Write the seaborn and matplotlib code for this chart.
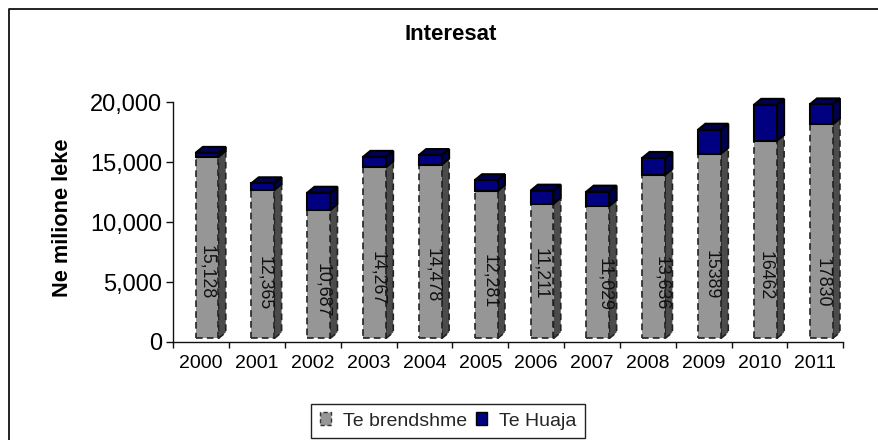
import numpy as np
import pandas as pd
import matplotlib
matplotlib.use("Agg")
import matplotlib.pyplot as plt
from matplotlib.lines import Line2D
from matplotlib.patches import Polygon, Patch
from matplotlib.transforms import ScaledTranslation
import seaborn as sns

years = ["2000", "2001", "2002", "2003", "2004", "2005",
         "2006", "2007", "2008", "2009", "2010", "2011"]
te_brendshme = [15128, 12365, 10687, 14267, 14478, 12281,
                11211, 11029, 13636, 15389, 16462, 17830]
te_huaja = [330, 560, 1450, 860, 800, 900, 1100, 1200, 1400, 2000, 3000, 1670]
value_labels = ["15,128", "12,365", "10,687", "14,267", "14,478", "12,281",
                "11,211", "11,029", "13,636", "15389", "16462", "17830"]
yticks = [0, 5000, 10000, 15000, 20000]

# hand-placed data label positions, in pixels from the top-left of the image
label_x_px = [207, 265, 323, 378, 433, 490, 540.7, 605, 661.7, 710.7, 765, 822]
label_y_px = [272, 283, 290, 278, 275.5, 281, 274, 284.5, 283, 275, 276, 282.5]

W, H = 879, 440
DPI = 100
sns.set_theme(style="white")
plt.rcParams["font.family"] = ["Liberation Sans", "DejaVu Sans"]

fig = plt.figure(figsize=(W / DPI, H / DPI), dpi=DPI, facecolor="white")
L, R, T0, B0 = 173.3, 843.3, 102.0, 342.0
ax = fig.add_axes([L / W, 1 - B0 / H, (R - L) / W, (B0 - T0) / H])

df = pd.DataFrame({"year": years, "dom": te_brendshme, "for": te_huaja})
GRAY, NAVY = "#969696", "#000080"
GSIDE, NSIDE = "#4b4b4b", "#000050"
BW = 0.41
sns.barplot(data=df, x="year", y="dom", color=GRAY, width=BW, saturation=1,
            ax=ax, edgecolor="#222222", linewidth=1.2, linestyle=(0, (4, 2.5)))
sns.barplot(data=df, x="year", y="for", bottom=df["dom"], color=NAVY, width=BW,
            saturation=1, ax=ax, edgecolor="black", linewidth=1.5)
ax.set_xlim(-0.5, 11.5)
ax.set_ylim(0, 20000)

# the 3D front plane sits a little right of the category centre and above the axis
shift = ax.transData + ScaledTranslation(5.8 / DPI, 3.6 / DPI, fig.dpi_scale_trans)
for p in ax.patches:
    p.set_transform(shift)
    p.set_clip_on(False)
    p.set_zorder(4)

DX, DY = 7.3 / ((R - L) / 12), 6.0 / ((B0 - T0) / 20000)
for i, (d, f) in enumerate(zip(te_brendshme, te_huaja)):
    x1 = i + BW / 2
    x0 = i - BW / 2
    top = d + f
    ax.add_patch(Polygon([(x1, 0), (x1 + DX, DY), (x1 + DX, d + DY), (x1, d)],
                         facecolor=GSIDE, edgecolor="#222222", lw=1.2,
                         ls=(0, (4, 2.5)), transform=shift, clip_on=False, zorder=3))
    ax.add_patch(Polygon([(x1, d), (x1 + DX, d + DY), (x1 + DX, top + DY), (x1, top)],
                         facecolor=NSIDE, edgecolor="black", lw=1.5,
                         transform=shift, clip_on=False, zorder=3))
    ax.add_patch(Polygon([(x0, top), (x0 + DX, top + DY), (x1 + DX, top + DY), (x1, top)],
                         facecolor=NSIDE, edgecolor="black", lw=1.5,
                         transform=shift, clip_on=False, zorder=3))
    fig.text(label_x_px[i] / W, 1 - label_y_px[i] / H, value_labels[i], rotation=270,
             ha="center", va="center", fontsize=12.8, color="#111111", zorder=6)

for s in ("top", "right"):
    ax.spines[s].set_visible(False)
for s in ("left", "bottom"):
    ax.spines[s].set_color("#111111")
    ax.spines[s].set_linewidth(1.0)

ax.set_yticks(yticks)
ax.set_yticklabels([f"{v:,}" for v in yticks], fontsize=17, color="black")
ax.set_xticks(np.arange(-0.5, 12, 1))
ax.set_xticklabels([])
ax.set_xticks(np.arange(12), labels=years, minor=True)
ax.tick_params(axis="x", which="major", length=4, width=1, color="#111111",
               bottom=True, direction="out")
ax.tick_params(axis="x", which="minor", length=0, labelsize=14, pad=9, labelcolor="black")
ax.tick_params(axis="y", which="major", length=5, width=1, color="#111111",
               left=True, direction="out", pad=3)
ax.set_xlabel("")
ax.set_ylabel("")

fig.text(63 / W, 1 - 218 / H, "Ne milione leke", rotation=90, ha="center", va="center",
         fontsize=15.7, fontweight="bold", color="black")
fig.text(450.5 / W, 1 - 34 / H, "Interesat", ha="center", va="center",
         fontsize=16, fontweight="bold", color="black")

# outer chart frame, cut by the image's right and bottom edges
fig.add_artist(Line2D([8.5 / W, 8.5 / W, 1], [0, 1 - 9 / H, 1 - 9 / H],
                      color="#111111", lw=1.3))

handles = [Patch(facecolor=GRAY, edgecolor="#333333", linestyle=(0, (3, 2)), label="Te brendshme"),
           Patch(facecolor=NAVY, edgecolor="black", label="Te Huaja")]
leg = fig.legend(handles=handles, ncol=2, loc="center", bbox_to_anchor=(448 / W, 1 - 421 / H),
                 fontsize=14, frameon=True, fancybox=False, edgecolor="#222222",
                 framealpha=1, handlelength=0.6, handleheight=0.6, handletextpad=0.6,
                 columnspacing=0.45, borderpad=0.42, borderaxespad=0)
leg.get_frame().set_linewidth(1.0)

fig.savefig("out.png", dpi=DPI, facecolor="white")
